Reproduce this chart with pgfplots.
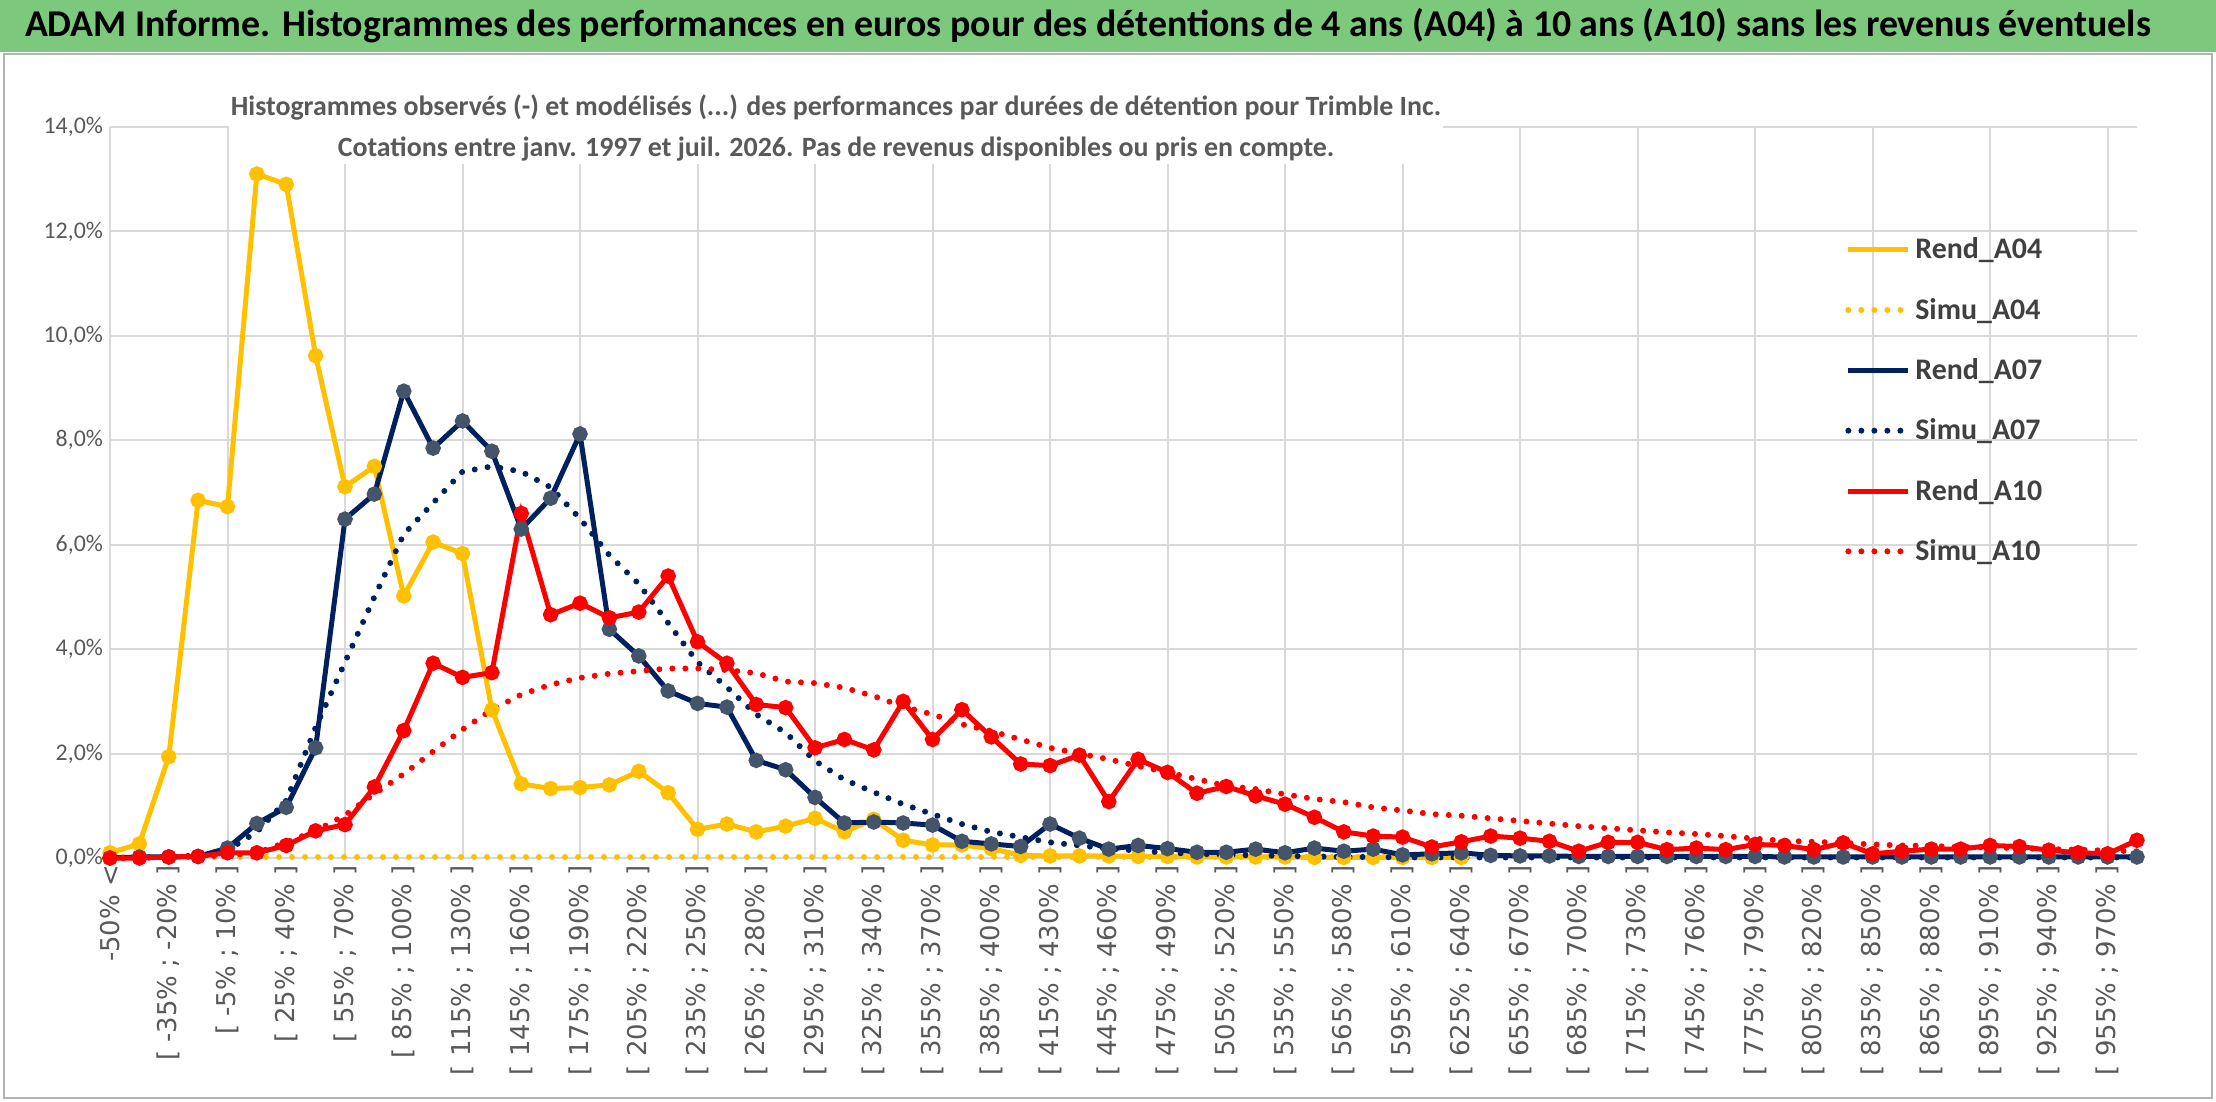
\documentclass[border=0pt]{standalone}
\usepackage{pgfplots}
\pgfplotsset{compat=1.18}
\usepackage{pgfplotstable}
\usepackage{fontspec}
\setmainfont{Carlito}
\newfontfamily\dejavu{DejaVu Sans}
\definecolor{cy}{HTML}{FFC000}
\definecolor{cn}{HTML}{002060}
\definecolor{cnm}{HTML}{44546A}
\definecolor{cr}{HTML}{FF0000}
\definecolor{cg}{HTML}{7CC87C}
\definecolor{tg}{HTML}{595959}
\pgfplotstableread{
x a04r a04s a07r a07s a10r a10s
0 0.10 0.02 0 0 0 0
1 0.27 0.02 0.02 0.01 0 0
2 1.94 0.02 0.02 0.02 0.02 0.02
3 6.85 0.02 0.03 0.05 0.03 0.03
4 6.73 0.02 0.19 0.15 0.1 0.05
5 13.1 0.02 0.66 0.5 0.1 0.1
6 12.9 0.02 0.97 1.1 0.24 0.3
7 9.62 0.02 2.11 2.5 0.52 0.52
8 7.11 0.02 6.49 3.75 0.64 0.82
9 7.5 0.02 6.97 5.0 1.36 1.23
10 5.02 0.02 8.94 6.2 2.44 1.61
11 6.05 0.02 7.85 6.8 3.73 2.04
12 5.83 0.02 8.37 7.4 3.46 2.46
13 2.84 0.02 7.79 7.5 3.55 2.84
14 1.42 0.02 6.3 7.4 6.6 3.13
15 1.33 0.02 6.89 7.1 4.66 3.32
16 1.35 0.02 8.12 6.5 4.88 3.45
17 1.40 0.02 4.38 5.8 4.6 3.53
18 1.66 0.02 3.87 5.25 4.71 3.58
19 1.25 0.02 3.2 4.5 5.4 3.63
20 0.55 0.02 2.96 3.75 4.14 3.63
21 0.65 0.02 2.89 3.27 3.73 3.6
22 0.5 0.02 1.87 2.75 2.94 3.54
23 0.61 0.02 1.69 2.4 2.88 3.38
24 0.76 0.02 1.16 1.86 2.11 3.35
25 0.5 0.02 0.67 1.5 2.27 3.26
26 0.74 0.02 0.69 1.26 2.07 3.1
27 0.34 0.02 0.67 1.03 3.0 2.9
28 0.25 0.02 0.63 0.84 2.27 2.75
29 0.25 0.02 0.32 0.65 2.84 2.56
30 0.18 0.02 0.27 0.5 2.32 2.43
31 0.05 0.02 0.22 0.4 1.8 2.27
32 0.04 0.02 0.65 0.3 1.77 2.11
33 0.04 0.02 0.38 0.24 1.97 2.0
34 0.04 0.02 0.17 0.18 1.08 1.89
35 0.03 0.02 0.24 0.14 1.89 1.76
36 0.03 0.02 0.18 0.1 1.64 1.64
37 0.02 0.02 0.11 0.08 1.24 1.51
38 0.02 0.02 0.11 0.06 1.37 1.38
39 0.02 0.02 0.17 0.05 1.19 1.32
40 0.02 0.02 0.1 0.04 1.03 1.22
41 0.01 0.02 0.19 0.03 0.78 1.13
42 0.01 0.02 0.13 0.02 0.5 1.07
43 0.01 0.02 0.17 0.02 0.42 0.97
44 0.01 0.02 0.06 0.01 0.40 0.91
45 0.01 0.02 0.08 0.01 0.21 0.84
46 0.01 0.02 0.1 0.01 0.31 0.81
47 nan nan 0.05 0.01 0.42 0.76
48 nan nan 0.04 0.01 0.38 0.71
49 nan nan 0.04 0.01 0.32 0.66
50 nan nan 0.03 0.01 0.13 0.61
51 nan nan 0.03 0.01 0.3 0.57
52 nan nan 0.03 0.01 0.3 0.53
53 nan nan 0.03 0.01 0.16 0.49
54 nan nan 0.03 0.01 0.19 0.46
55 nan nan 0.03 0.01 0.16 0.42
56 nan nan 0.03 0.01 0.26 0.37
57 nan nan 0.02 0.01 0.24 0.33
58 nan nan 0.02 0.01 0.16 0.31
59 nan nan 0.02 0.01 0.29 0.29
60 nan nan 0.02 0.01 0.08 0.26
61 nan nan 0.02 0.01 0.13 0.24
62 nan nan 0.02 0.01 0.17 0.23
63 nan nan 0.02 0.01 0.17 0.21
64 nan nan 0.02 0.01 0.24 0.2
65 nan nan 0.02 0.01 0.22 0.19
66 nan nan 0.02 0.01 0.15 0.17
67 nan nan 0.02 0.01 0.1 0.16
68 nan nan 0.02 0.01 0.08 0.14
69 nan nan 0.02 0.01 0.34 0.13
}\data
\begin{document}
\begin{tikzpicture}
\useasboundingbox (-55bp,-122bp) rectangle (1053bp,429bp);
\fill[white] (-55bp,-122bp) rectangle (1053bp,429bp);
\draw[gray!60, line width=1bp] (-53bp,-120bp) rectangle (1051bp,402bp);
\fill[cg] (-55bp,403bp) rectangle (1053bp,429bp);
\node[font=\fontsize{19}{21}\selectfont\bfseries, text=black, anchor=west] at (-46bp,416bp) {ADAM Informe. Histogrammes des performances en euros pour des détentions de 4 ans (A04) à 10 ans (A10) sans les revenus éventuels};
\begin{axis}[
  at={(0,0)}, anchor=origin,
  scale only axis, width=1013.5bp, height=365.5bp,
  xmin=0, xmax=69, ymin=0, ymax=14,
  clip=false,
  axis line style={draw=none},
  major tick length=0pt,
  ytick={0,2,...,14},
  ymajorgrids,
  grid style={color=black!15, line width=1bp},
  yticklabel style={font=\fontsize{12}{14}\selectfont, text=tg},
  /pgf/number format/assume math mode=true,
  yticklabel={\pgfmathprintnumber[fixed,fixed zerofill,precision=1,use comma]{\tick}\%},
  xtick={0,2,...,68},
  extra x ticks={0,4,...,68},
  extra x tick labels={},
  extra x tick style={xmajorgrids=true},
  xticklabel style={rotate=90, anchor=east, font=\dejavu\fontsize{13}{15}\selectfont, text=tg},
  xticklabel={\pgfmathtruncatemacro\k{\tick}\ifnum\k=0 -50\% <\else\pgfmathtruncatemacro\lo{-50+15*(\k-1)}\pgfmathtruncatemacro\hi{\lo+15}[ \lo\% ; \hi\% ]\fi},
  legend style={at={(0.853,0.86)}, anchor=north west, draw=none, fill=none,
    font=\fontsize{15}{17}\selectfont\bfseries, text=black!75, row sep=14.2bp},
  legend cell align=left,
  legend image code/.code={\draw[#1] (0bp,0bp) -- (15bp,0bp) -- (30bp,0bp);},
]
\addplot[cy, line width=2.5bp, mark=*, mark size=2.6bp, mark options={fill=cy}] table[x=x,y=a04r]{\data};
\addlegendentry{Rend\_A04}
\addplot[cy, line width=3bp, line cap=round, dash pattern=on 0bp off 6.5bp] table[x=x,y=a04s]{\data};
\addlegendentry{Simu\_A04}
\addplot[cn, line width=2.5bp, mark=*, mark size=2.6bp, mark options={fill=cnm, draw=cnm}] table[x=x,y=a07r]{\data};
\addlegendentry{Rend\_A07}
\addplot[cn, line width=3bp, line cap=round, dash pattern=on 0bp off 6.5bp] table[x=x,y=a07s]{\data};
\addlegendentry{Simu\_A07}
\addplot[cr, line width=2.5bp, mark=*, mark size=2.6bp, mark options={fill=cr}] table[x=x,y=a10r]{\data};
\addlegendentry{Rend\_A10}
\addplot[cr, line width=3bp, line cap=round, dash pattern=on 0bp off 6.5bp] table[x=x,y=a10s]{\data};
\addlegendentry{Simu\_A10}
\end{axis}
\node[fill=white, inner sep=1bp, align=center, font=\fontsize{14}{21}\selectfont\bfseries, text=tg] at (363bp,365bp) {Histogrammes observés (-) et modélisés (...) des performances par durées de détention pour Trimble Inc.\\Cotations entre janv. 1997 et juil. 2026. Pas de revenus disponibles ou pris en compte.};
\end{tikzpicture}
\end{document}
